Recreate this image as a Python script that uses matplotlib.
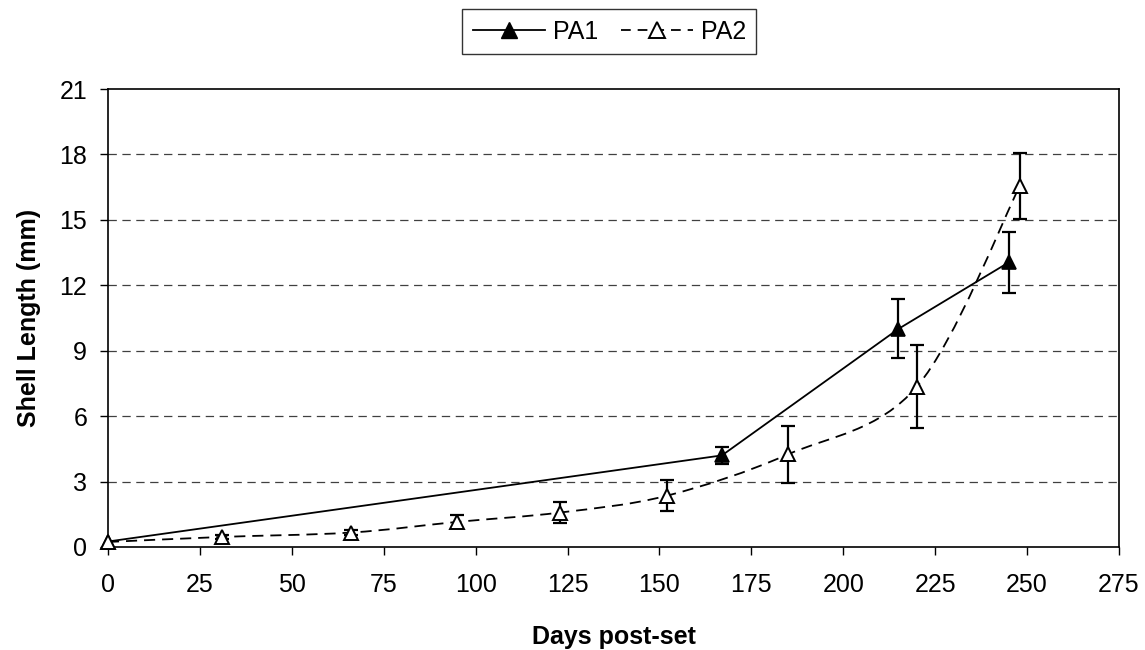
import numpy as np
import matplotlib
matplotlib.use("Agg")
import matplotlib.pyplot as plt
from matplotlib.path import Path
from matplotlib.patches import PathPatch
from matplotlib.lines import Line2D

plt.rcParams['font.family'] = ['Liberation Sans', 'DejaVu Sans']
plt.rcParams['lines.scale_dashes'] = False

# Data
pa1_days = [0, 167, 215, 245]
pa1_len = [0.25, 4.2, 10.0, 13.05]
pa1_err = [0.0, 0.4, 1.35, 1.4]

pa2_days = [0, 31, 66, 95, 123, 152, 185, 220, 248]
pa2_len = [0.23, 0.46, 0.66, 1.15, 1.58, 2.35, 4.25, 7.35, 16.55]
pa2_err = [0.0, 0.1, 0.1, 0.3, 0.5, 0.7, 1.3, 1.9, 1.5]

x_ticks = [0, 25, 50, 75, 100, 125, 150, 175, 200, 225, 250, 275]
y_ticks = [0, 3, 6, 9, 12, 15, 18, 21]

FS = 18

fig = plt.figure(figsize=(11.45, 6.5), dpi=100)
ax = fig.add_axes([0.0943, 0.1585, 0.8830, 0.7045])

ax.set_xlim(0, 275)
ax.set_ylim(0, 21)
ax.set_xticks(x_ticks)
ax.set_yticks(y_ticks)
ax.tick_params(axis='both', direction='out', length=6, width=1.0, labelsize=FS, colors='black')
ax.tick_params(axis='x', pad=13)
ax.tick_params(axis='y', pad=9)
for s in ax.spines.values():
    s.set_linewidth(1.2)
    s.set_color('black')

for yv in y_ticks[1:-1]:
    ax.axhline(yv, color='#404040', lw=0.9, dashes=(6, 4), zorder=0)

lw = 1.3
# PA1 straight
ax.plot(pa1_days, pa1_len, color='black', lw=lw, zorder=3)
ax.errorbar(pa1_days[1:], pa1_len[1:], yerr=pa1_err[1:], fmt='none', ecolor='black',
            elinewidth=1.6, capsize=5, capthick=1.6, zorder=4)
ax.plot(pa1_days, pa1_len, ls='none', marker='^', ms=10, mfc='black', mec='black', mew=1.2,
        zorder=5, clip_on=False)

# PA2 smoothed (Catmull-Rom spline as Bezier path through data points)
px = np.array(pa2_days, dtype=float)
py = np.array(pa2_len, dtype=float)
pts = np.column_stack([px, py])
verts = [pts[0]]
codes = [Path.MOVETO]
n = len(pts)
for i in range(n - 1):
    p0 = pts[i - 1] if i > 0 else pts[i]
    p1 = pts[i]
    p2 = pts[i + 1]
    p3 = pts[i + 2] if i + 2 < n else pts[i + 1]
    c1 = p1 + (p2 - p0) / 6.0
    c2 = p2 - (p3 - p1) / 6.0
    verts += [c1, c2, p2]
    codes += [Path.CURVE4] * 3
path = Path(verts, codes)
patch = PathPatch(path, facecolor='none', edgecolor='black', lw=lw, zorder=3,
                  transform=ax.transData, fill=False)
patch.set_linestyle((0, (8, 5)))
ax.add_patch(patch)
ax.errorbar(pa2_days[1:], pa2_len[1:], yerr=pa2_err[1:], fmt='none', ecolor='black',
            elinewidth=1.6, capsize=5, capthick=1.6, zorder=4)
ax.plot(pa2_days, pa2_len, ls='none', marker='^', ms=10, mfc='white', mec='black', mew=1.4,
        zorder=5, clip_on=False)

ax.set_xlabel('Days post-set', fontsize=FS, fontweight='bold', labelpad=20)
ax.set_ylabel('Shell Length (mm)', fontsize=FS, fontweight='bold', labelpad=13)

h1 = Line2D([], [], color='black', lw=lw, marker='^', ms=11, mfc='black', mec='black')
h2 = Line2D([], [], color='black', lw=lw, dashes=(7, 5), marker='^', ms=11, mfc='white', mec='black', mew=1.4)
leg = fig.legend([h1, h2], ['PA1', 'PA2'], loc='center', bbox_to_anchor=(0.5323, 0.9515),
                 ncol=2, fontsize=FS, frameon=True, fancybox=False, handlelength=2.9,
                 handletextpad=0.3, columnspacing=0.9, borderpad=0.42, borderaxespad=0)
leg.get_frame().set_edgecolor('black')
leg.get_frame().set_linewidth(1.0)

fig.savefig('out.png', dpi=100)
